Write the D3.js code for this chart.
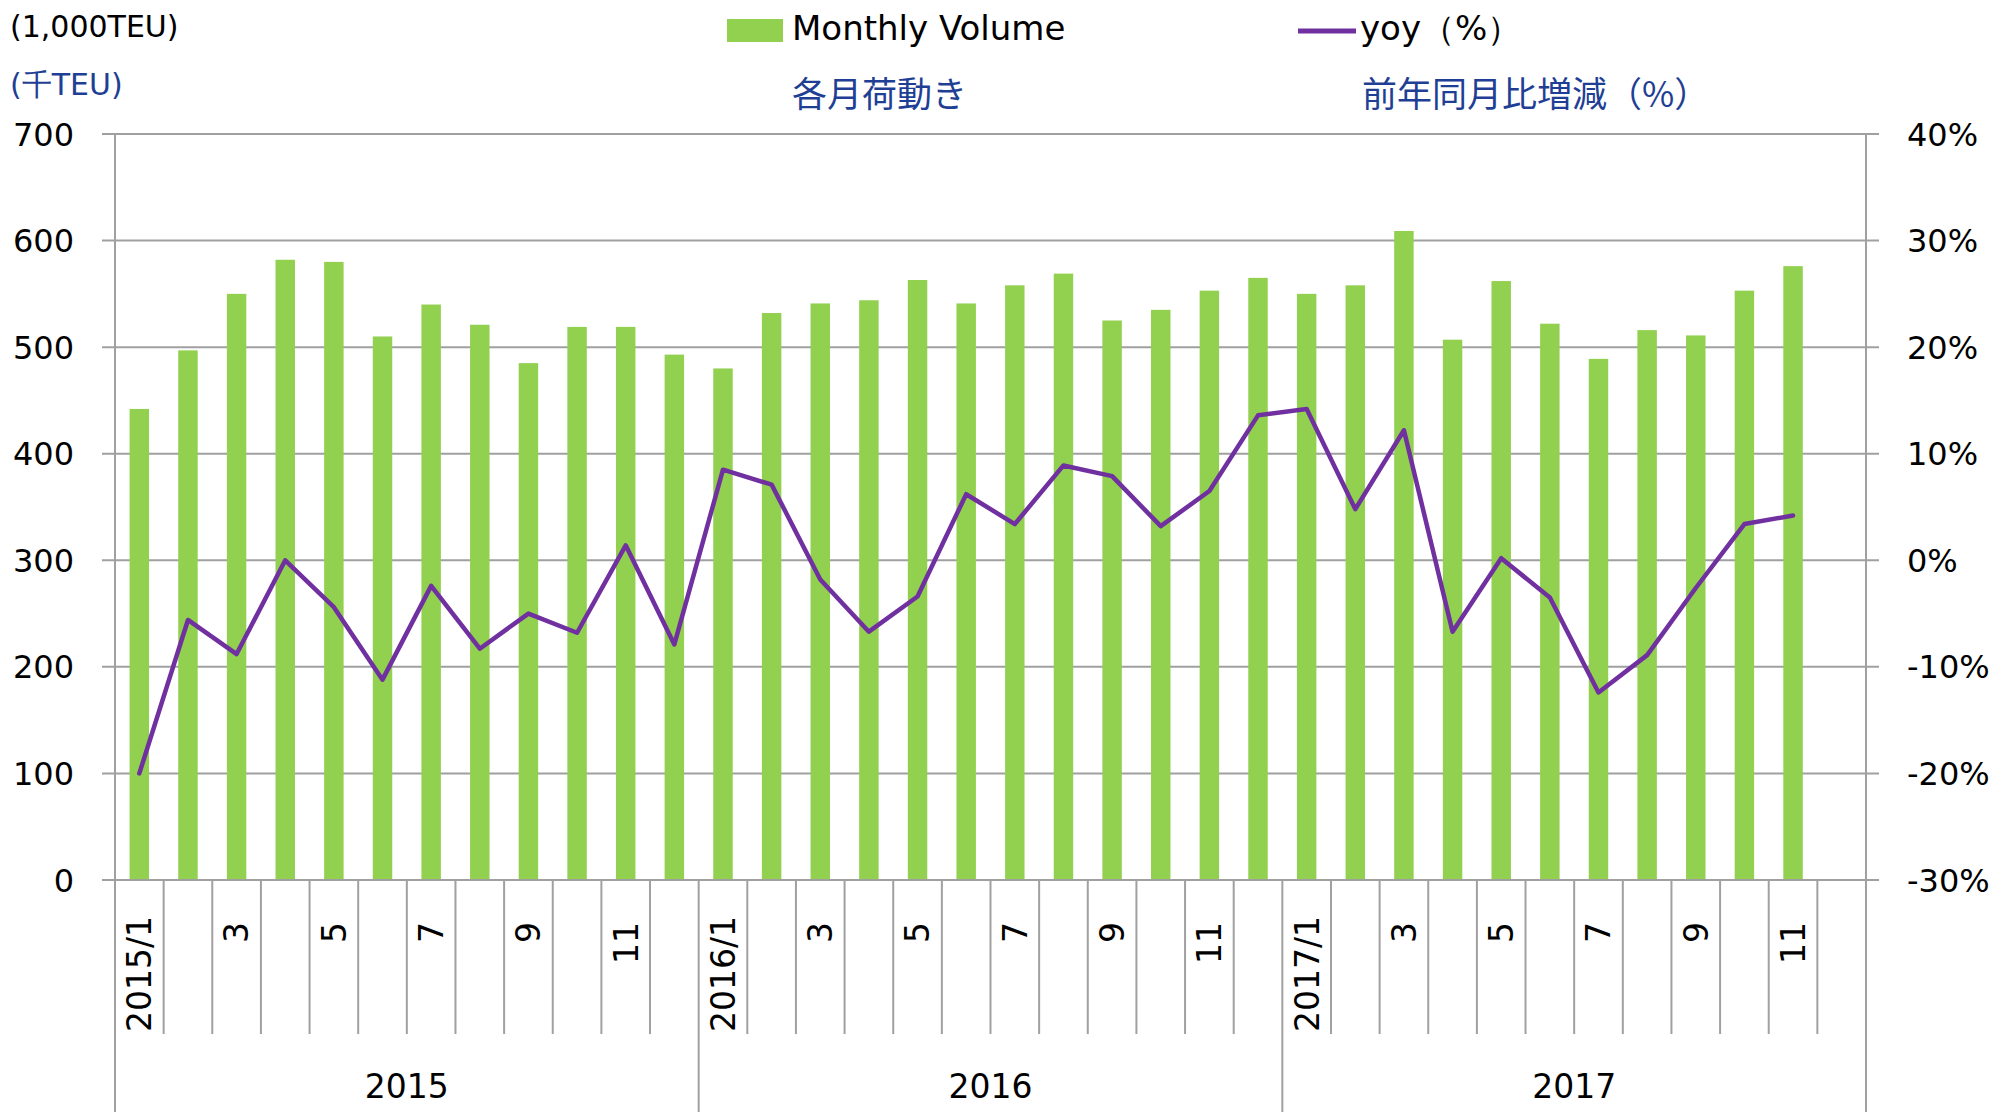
<!DOCTYPE html>
<html>
<head>
<meta charset="utf-8">
<script src="https://cdn.jsdelivr.net/npm/d3@7"></script>
<style>
  body { margin: 0; background: #fff; }
  svg { display: block; }
</style>
</head>
<body>
<div id="chart"></div>
<script>
//data
var monthLabels = ["2015/1", "", "3", "", "5", "", "7", "", "9", "", "11", "",
                   "2016/1", "", "3", "", "5", "", "7", "", "9", "", "11", "",
                   "2017/1", "", "3", "", "5", "", "7", "", "9", "", "11", ""];
var years = ["2015", "2016", "2017"];
var volume = [442, 497, 550, 582, 580, 510, 540, 521, 485, 519, 519, 493,
              480, 532, 541, 544, 563, 541, 558, 569, 525, 535, 553, 565,
              550, 558, 609, 507, 562, 522, 489, 516, 511, 553, 576];
var yoy = [-20.0, -5.6, -8.8, 0.0, -4.4, -11.2, -2.4, -8.3, -5.0, -6.8, 1.4, -7.9,
           8.5, 7.1, -1.8, -6.7, -3.4, 6.2, 3.4, 8.9, 7.9, 3.2, 6.5, 13.6,
           14.2, 4.8, 12.2, -6.7, 0.2, -3.5, -12.4, -8.9, -2.6, 3.4, 4.2];
var leftTicks = [0, 100, 200, 300, 400, 500, 600, 700];
var rightTicks = [-30, -20, -10, 0, 10, 20, 30, 40];

//set up svg dimensions
var svgWidth = 2006;
var svgHeight = 1112;
var plotLeft = 115, plotRight = 1866, plotTop = 134, plotBottom = 880;
var tickBottom = 1034;
var font = "DejaVu Sans, Verdana, sans-serif";
var cjk = "Noto Sans CJK JP, sans-serif";
var blue = "#1f3f95";
var grey = "#a0a0a0";

var svg = d3.select("#chart")
    .append("svg")
    .attr("width", svgWidth)
    .attr("height", svgHeight);

//scales
var xScale = d3.scaleBand()
    .domain(d3.range(monthLabels.length))
    .range([plotLeft, plotRight])
    .paddingInner(0.6)
    .paddingOuter(0.3);
var step = xScale.step();

var yLeft = d3.scaleLinear().domain([0, 700]).range([plotBottom, plotTop]);
var yRight = d3.scaleLinear().domain([-30, 40]).range([plotBottom, plotTop]);

//gridlines with their small outer ticks on both sides
svg.append("g")
    .selectAll("line")
    .data(leftTicks)
    .enter()
    .append("line")
    .attr("x1", plotLeft - 13)
    .attr("x2", plotRight + 13)
    .attr("y1", d => yLeft(d))
    .attr("y2", d => yLeft(d))
    .attr("stroke", grey)
    .attr("stroke-width", 2);

//left axis labels
svg.append("g")
    .selectAll("text")
    .data(leftTicks)
    .enter()
    .append("text")
    .attr("x", 74)
    .attr("y", d => yLeft(d))
    .attr("dy", "0.36em")
    .attr("text-anchor", "end")
    .attr("font-family", font)
    .attr("font-size", 32)
    .attr("fill", "#000")
    .text(d => d);

//right axis labels
svg.append("g")
    .selectAll("text")
    .data(rightTicks)
    .enter()
    .append("text")
    .attr("x", 1907)
    .attr("y", d => yRight(d))
    .attr("dy", "0.36em")
    .attr("font-family", font)
    .attr("font-size", 32)
    .attr("fill", "#000")
    .text(d => d + "%");

//vertical axis lines
svg.append("line")
    .attr("x1", plotLeft).attr("x2", plotLeft)
    .attr("y1", plotTop).attr("y2", svgHeight)
    .attr("stroke", grey).attr("stroke-width", 2);
svg.append("line")
    .attr("x1", plotRight).attr("x2", plotRight)
    .attr("y1", plotTop).attr("y2", svgHeight)
    .attr("stroke", grey).attr("stroke-width", 2);

//bars
svg.append("g")
    .selectAll("rect")
    .data(volume)
    .enter()
    .append("rect")
    .attr("x", (d, i) => xScale(i))
    .attr("y", d => yLeft(d))
    .attr("width", xScale.bandwidth())
    .attr("height", d => plotBottom - yLeft(d))
    .attr("fill", "#92d050");

//category tick lines, year boundaries run to the bottom
svg.append("g")
    .selectAll("line")
    .data(d3.range(monthLabels.length + 1))
    .enter()
    .append("line")
    .attr("x1", i => plotLeft + i * step)
    .attr("x2", i => plotLeft + i * step)
    .attr("y1", plotBottom)
    .attr("y2", i => (i % 12 == 0) ? svgHeight : tickBottom)
    .attr("stroke", grey)
    .attr("stroke-width", 2);

//x axis baseline
svg.append("line")
    .attr("x1", plotLeft - 13).attr("x2", plotRight + 13)
    .attr("y1", plotBottom).attr("y2", plotBottom)
    .attr("stroke", grey).attr("stroke-width", 2);

//yoy line
var line = d3.line()
    .x((d, i) => xScale(i) + xScale.bandwidth() / 2)
    .y(d => yRight(d));

svg.append("path")
    .datum(yoy)
    .attr("d", line)
    .attr("fill", "none")
    .attr("stroke", "#7030a0")
    .attr("stroke-width", 4.5)
    .attr("stroke-linejoin", "round")
    .attr("stroke-linecap", "round");

//month labels, rotated
svg.append("g")
    .selectAll("text")
    .data(monthLabels)
    .enter()
    .append("text")
    .attr("font-family", font)
    .attr("font-size", 33)
    .attr("fill", "#000")
    .attr("text-anchor", "end")
    .text(d => d)
    .each(function(d, i) {
        var len = this.getComputedTextLength();
        var yEnd = Math.min(922, tickBottom - 2 - len);
        var cx = xScale(i) + xScale.bandwidth() / 2;
        d3.select(this)
            .attr("transform", `translate(${cx}, ${yEnd}) rotate(-90)`)
            .attr("dy", "0.36em");
    });

//year labels
svg.append("g")
    .selectAll("text")
    .data(years)
    .enter()
    .append("text")
    .attr("x", (d, i) => plotLeft + (i * 12 + 6) * step)
    .attr("y", 1086)
    .attr("dy", "0.36em")
    .attr("text-anchor", "middle")
    .attr("font-family", font)
    .attr("font-size", 33)
    .attr("fill", "#000")
    .text(d => d);

//unit labels
svg.append("text")
    .attr("x", 10).attr("y", 26).attr("dy", "0.36em")
    .attr("font-family", font).attr("font-size", 30)
    .attr("fill", "#000")
    .text("(1,000TEU)");
svg.append("text")
    .attr("x", 10).attr("y", 84).attr("dy", "0.36em")
    .attr("font-family", font).attr("font-size", 30)
    .attr("fill", blue)
    .text("(千TEU)");

//legend
svg.append("rect")
    .attr("x", 727).attr("y", 19)
    .attr("width", 56).attr("height", 23)
    .attr("fill", "#92d050");
svg.append("text")
    .attr("x", 792).attr("y", 28).attr("dy", "0.36em")
    .attr("font-family", font).attr("font-size", 34)
    .attr("fill", "#000")
    .text("Monthly Volume");
svg.append("line")
    .attr("x1", 1298).attr("x2", 1356)
    .attr("y1", 31).attr("y2", 31)
    .attr("stroke", "#7030a0").attr("stroke-width", 5);
svg.append("text")
    .attr("x", 1360).attr("y", 28).attr("dy", "0.36em")
    .attr("font-family", font).attr("font-size", 34)
    .attr("fill", "#000")
    .text("yoy（%）");
svg.append("text")
    .attr("x", 792).attr("y", 94).attr("dy", "0.36em")
    .attr("font-family", cjk).attr("font-size", 35)
    .attr("fill", blue)
    .text("各月荷動き");
svg.append("text")
    .attr("x", 1362).attr("y", 94).attr("dy", "0.36em")
    .attr("font-family", cjk).attr("font-size", 35)
    .attr("fill", blue)
    .text("前年同月比増減（%）");
</script>
</body>
</html>
